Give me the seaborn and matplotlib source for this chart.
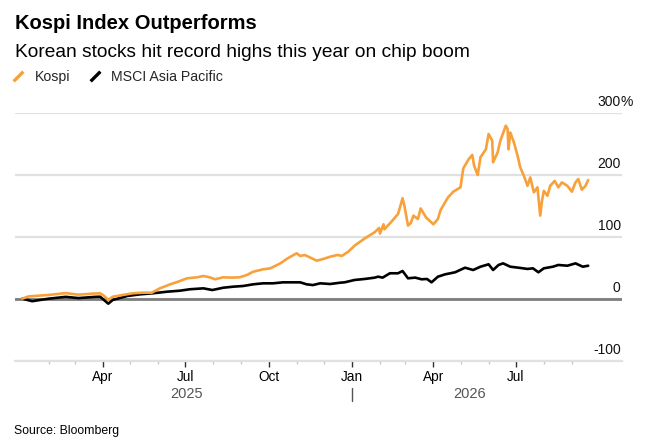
import pandas as pd
import seaborn as sns
import matplotlib.pyplot as plt
from matplotlib.lines import Line2D
from matplotlib.transforms import blended_transform_factory, offset_copy

# values (% change since start)
kospi_dates = [
    '2025-01-02', '2025-01-09', '2025-01-31', '2025-02-19', '2025-03-05', '2025-03-24',
    '2025-03-29', '2025-04-02', '2025-04-07', '2025-04-12', '2025-04-23', '2025-05-04',
    '2025-05-15', '2025-05-25', '2025-06-03', '2025-06-14', '2025-06-23', '2025-07-03',
    '2025-07-14', '2025-07-21', '2025-07-28', '2025-08-03', '2025-08-12', '2025-08-22',
    '2025-08-30', '2025-09-07', '2025-09-14', '2025-09-25', '2025-10-03', '2025-10-14',
    '2025-10-22', '2025-11-01', '2025-11-05', '2025-11-10', '2025-11-18', '2025-11-23',
    '2025-11-29', '2025-12-08', '2025-12-16', '2025-12-21', '2025-12-28', '2026-01-04',
    '2026-01-15', '2026-01-26', '2026-01-31', '2026-02-01', '2026-02-05', '2026-02-06',
    '2026-02-13', '2026-02-21', '2026-02-26', '2026-02-28', '2026-03-04', '2026-03-07',
    '2026-03-10', '2026-03-15', '2026-03-18', '2026-03-24', '2026-04-01', '2026-04-06',
    '2026-04-09', '2026-04-17', '2026-04-23', '2026-05-01', '2026-05-04', '2026-05-10',
    '2026-05-14', '2026-05-16', '2026-05-20', '2026-05-23', '2026-05-29', '2026-06-01',
    '2026-06-05', '2026-06-06', '2026-06-11', '2026-06-14', '2026-06-20', '2026-06-22',
    '2026-06-23', '2026-06-25', '2026-06-29', '2026-07-03', '2026-07-06', '2026-07-10',
    '2026-07-14', '2026-07-17', '2026-07-21', '2026-07-25', '2026-07-28', '2026-07-30',
    '2026-08-01', '2026-08-05', '2026-08-08', '2026-08-13', '2026-08-17', '2026-08-21',
    '2026-08-27', '2026-09-01', '2026-09-05', '2026-09-08', '2026-09-12', '2026-09-16',
    '2026-09-19',
]
kospi_values = [
    0, 3.7, 6, 9, 6.5, 8.5,
    8.7, 5, -2, 3.2, 6, 8.7,
    9.7, 9.7, 16.7, 23, 27.4, 32.9,
    34.5, 36.6, 34.5, 31.3, 34.5, 34,
    34.5, 38.2, 43.5, 47.4, 49, 57,
    65, 73.2, 68.9, 70.5, 65, 61.3,
    63.5, 67.7, 70.5, 69, 75.8, 85.5,
    97, 107, 114, 105, 120, 112,
    123, 136.6, 162, 150, 118, 122,
    134, 128.5, 145.6, 131, 120, 128.5,
    143, 163, 172.6, 179.6, 210, 225,
    232, 214.5, 199.5, 228, 241, 265.6,
    255, 220, 236, 255, 279, 273.7,
    241, 268, 252, 230.6, 211.8, 198,
    182, 195.6, 171.5, 179.6, 134, 158,
    174, 166, 182, 190, 179.6, 187.6,
    182, 172.6, 187.6, 193, 175.8, 182,
    191.4,
]

msci_dates = [
    '2025-01-02', '2025-01-13', '2025-01-31', '2025-02-19', '2025-03-05', '2025-03-24',
    '2025-03-29', '2025-04-07', '2025-04-12', '2025-04-28', '2025-05-12', '2025-05-26',
    '2025-06-11', '2025-06-25', '2025-07-06', '2025-07-21', '2025-07-31', '2025-08-12',
    '2025-08-23', '2025-09-03', '2025-09-14', '2025-09-25', '2025-10-06', '2025-10-17',
    '2025-10-27', '2025-11-05', '2025-11-12', '2025-11-19', '2025-11-27', '2025-12-08',
    '2025-12-19', '2025-12-24', '2026-01-04', '2026-01-15', '2026-01-26', '2026-01-30',
    '2026-02-04', '2026-02-12', '2026-02-21', '2026-02-26', '2026-03-04', '2026-03-12',
    '2026-03-19', '2026-03-25', '2026-03-30', '2026-04-06', '2026-04-14', '2026-04-25',
    '2026-05-06', '2026-05-15', '2026-05-23', '2026-06-01', '2026-06-06', '2026-06-12',
    '2026-06-17', '2026-06-25', '2026-07-04', '2026-07-14', '2026-07-20', '2026-07-26',
    '2026-08-01', '2026-08-11', '2026-08-17', '2026-08-27', '2026-09-05', '2026-09-13',
    '2026-09-19',
]
msci_values = [
    0, -4, 0, 3, 1, 3,
    3.2, -8, -2, 4.4, 7, 8.7,
    11.3, 12.9, 15.2, 16.7, 14, 17.7,
    19.4, 20.5, 23.2, 24.8, 24.8, 26.4,
    26.4, 26.4, 23.2, 22, 24.8, 23.7,
    25.8, 26.4, 30.2, 31.8, 33.9, 35.5,
    34, 41, 41, 44.7, 32.9, 34,
    31.3, 31.8, 26.4, 35.5, 39.3, 42.6,
    50, 46.3, 51.6, 55.5, 46.3, 54.4,
    57, 51.6, 50, 48, 49, 42.6,
    49, 51.6, 54.4, 53.2, 57, 51.6,
    53.2,
]

series_names = ['Kospi', 'MSCI Asia Pacific']
series_colors = ['#f8a13a', '#000000']
y_ticks = [-100, 0, 100, 200, 300]
month_ticks = ['2025-04-01', '2025-07-01', '2025-10-01', '2026-01-01', '2026-04-01', '2026-07-01']
month_labels = ['Apr', 'Jul', 'Oct', 'Jan', 'Apr', 'Jul']
year_labels = ['2025', '2026']

df = pd.concat([
    pd.DataFrame({'date': pd.to_datetime(msci_dates), 'pct': msci_values, 'series': series_names[1]}),
    pd.DataFrame({'date': pd.to_datetime(kospi_dates), 'pct': kospi_values, 'series': series_names[0]}),
], ignore_index=True)

sns.set_theme(style='white')
plt.rcParams['font.family'] = ['Liberation Sans', 'DejaVu Sans']

W, H = 654, 446
fig = plt.figure(figsize=(W / 100, H / 100), dpi=100)
ax = fig.add_axes([15 / W, 1 - 360.7 / H, (621.7 - 15) / W, (360.7 - 112.7) / H])

sns.lineplot(
    data=df, x='date', y='pct', hue='series',
    hue_order=[series_names[1], series_names[0]],
    palette=dict(zip(series_names, series_colors)),
    linewidth=1.9, legend=False, ax=ax, zorder=3,
)

ax.set_ylim(-100, 300)
ax.set_xlim(pd.Timestamp('2024-12-25'), pd.Timestamp('2026-10-26'))
ax.set_xlabel('')
ax.set_ylabel('')

# horizontal grid + zero line
ax.set_yticks(y_ticks)
ax.yaxis.grid(True, color='#e1e1e1', linewidth=1.6)
ax.tick_params(axis='y', left=False, right=False, labelleft=False)
ax.axhline(0, color='#7d7d7d', linewidth=2.0, zorder=2)
for s in ['top', 'left', 'right']:
    ax.spines[s].set_visible(False)
ax.spines['bottom'].set_color('#e1e1e1')
ax.spines['bottom'].set_linewidth(1.6)

# right-side y labels sitting above the grid lines
lab_tr = offset_copy(blended_transform_factory(ax.transAxes, ax.transData),
                     fig=fig, x=-1, y=7, units='dots')
for v in y_ticks:
    ax.text(1.0, v, f'{v}', transform=lab_tr, ha='right', va='baseline',
            fontsize=10, color='#111111')
ax.text(1.0, y_ticks[-1], '%', transform=lab_tr, ha='left', va='baseline',
        fontsize=10, color='#111111')

# x axis: months with year row underneath
minor = [d for d in pd.date_range('2025-02-01', '2026-09-01', freq='MS')
         if d not in pd.to_datetime(month_ticks)]
ax.set_xticks(pd.to_datetime(month_ticks))
ax.set_xticklabels(month_labels)
ax.set_xticks(minor, minor=True)
ax.tick_params(axis='x', which='major', bottom=True, length=4.5, width=1.0,
               color='#333333', pad=2, labelsize=9.8, labelcolor='#000000')
ax.tick_params(axis='x', which='minor', bottom=True, length=2.5, width=1.0,
               color='#c8c8c8')

xy = blended_transform_factory(ax.transData, ax.transAxes)
last = df['date'].max()
y0 = pd.Timestamp('2025-01-01')
y1 = pd.Timestamp('2026-01-01')
yr_y = -(397.5 - 360.7) / (360.7 - 112.7)
ax.text(y0 + (y1 - y0) / 2, yr_y, year_labels[0], transform=xy, ha='center',
        va='baseline', fontsize=10.5, color='#555555')
ax.text(y1 + (last - y1) / 2, yr_y, year_labels[1], transform=xy, ha='center',
        va='baseline', fontsize=10.5, color='#555555')
ax.plot([y1, y1], [-(388 - 360.7) / 248, -(401 - 360.7) / 248], transform=xy,
        color='#555555', linewidth=1.0, clip_on=False)

# header
fig.text(15 / W, 1 - 29.3 / H, 'Kospi Index Outperforms', fontsize=14.5,
         fontweight='bold', va='baseline', ha='left', color='#000000')
fig.text(15 / W, 1 - 56.7 / H, 'Korean stocks hit record highs this year on chip boom',
         fontsize=13.8, va='baseline', ha='left', color='#000000')

slash = [(-1, -1), (1, 1)]
handles = [Line2D([], [], color=c, linestyle='None', marker=slash, markersize=7,
                  markeredgewidth=2.4, markeredgecolor=c) for c in series_colors]
fig.legend(handles, series_names, loc='lower left',
           bbox_to_anchor=(12 / W, 1 - 84 / H), ncol=2, frameon=False,
           fontsize=10.2, handlelength=0.9, handletextpad=0.7, columnspacing=1.3,
           borderpad=0, borderaxespad=0)

fig.text(14 / W, 1 - 434 / H, 'Source: Bloomberg', fontsize=8.8, va='baseline',
         ha='left', color='#000000')

fig.savefig('out.png', dpi=100)
